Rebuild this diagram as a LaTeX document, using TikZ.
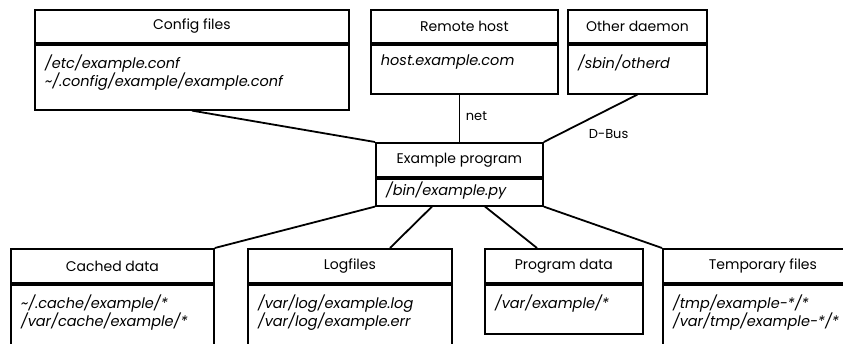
\documentclass[tikz,border=0pt]{standalone}
\usepackage{fontspec}
\setmainfont{Poppins}
\usetikzlibrary{calc}
\newcommand\umlbox[9]{%
  \node[hdr, minimum width=#4pt, minimum height=#5pt] (#1h) at (#2,#3) {#7};
  \node[bodybox, minimum width=#4pt, minimum height=#6pt] (#1) at (#1h.south west) {};
  \node[bodytext] (#1t) at ([xshift=10pt,yshift=-#9pt]#1.north west) {#8};
}
\begin{document}
\begin{tikzpicture}[x=1pt,y=-1pt,line width=1.8pt,
  hdr/.style={draw, anchor=north west, inner sep=0pt, font=\fontsize{14}{16}\selectfont},
  bodybox/.style={draw, anchor=north west, inner sep=0pt},
  bodytext/.style={anchor=north west, inner sep=0pt, align=left, font=\fontsize{14.5}{16.5}\selectfont\itshape},
  lbl/.style={anchor=base west, inner sep=0pt, font=\fontsize{13}{15}\selectfont},
  conn/.style={line width=1.8pt}]
\clip (0,0) rectangle (843,343);
\fill[white] (0,0) rectangle (843,343);
\umlbox{cfg}{34}{9}{314}{33}{65}{Config files}{/etc/example.conf\\\textasciitilde/.config/example/example.conf}{10}
\umlbox{rem}{370}{9}{187}{33}{49}{Remote host}{host.example.com}{10}
\umlbox{oth}{567}{9}{139}{33}{49}{Other daemon}{/sbin/otherd}{10}
\umlbox{ex}{375}{142}{167}{34}{27}{Example program}{/bin/example.py}{3}
\umlbox{cac}{10}{248}{203}{34}{90}{Cached data}{\textasciitilde/.cache/example/*\\/var/cache/example/*}{10}
\umlbox{log}{247}{248}{204}{34}{90}{Logfiles}{/var/log/example.log\\/var/log/example.err}{10}
\umlbox{pd}{484}{248}{158}{34}{49}{Program data}{/var/example/*}{10}
\umlbox{tmp}{662}{248}{200}{34}{90}{Temporary files}{/tmp/example-*/*\\/var/tmp/example-*/*}{10}
\draw[conn] (cfg.south) -- (exh.north west);
\draw[conn] (exh.north) -- (exh.north |- rem.south);
\draw[conn] (oth.south) -- (exh.north east);
\draw[conn] (cach.north east) -- (ex.south west);
\draw[conn] ($(logh.north west)+(143,0)$) -- ($(ex.south west)+(57,0)$);
\draw[conn] ($(pdh.north west)+(53,0)$) -- ($(ex.south west)+(110,0)$);
\draw[conn] (tmph.north west) -- (ex.south east);
\node[lbl] (net) at (465,120) {net};
\node[lbl] (dbus) at (588,138) {D-Bus};
\end{tikzpicture}
\end{document}
